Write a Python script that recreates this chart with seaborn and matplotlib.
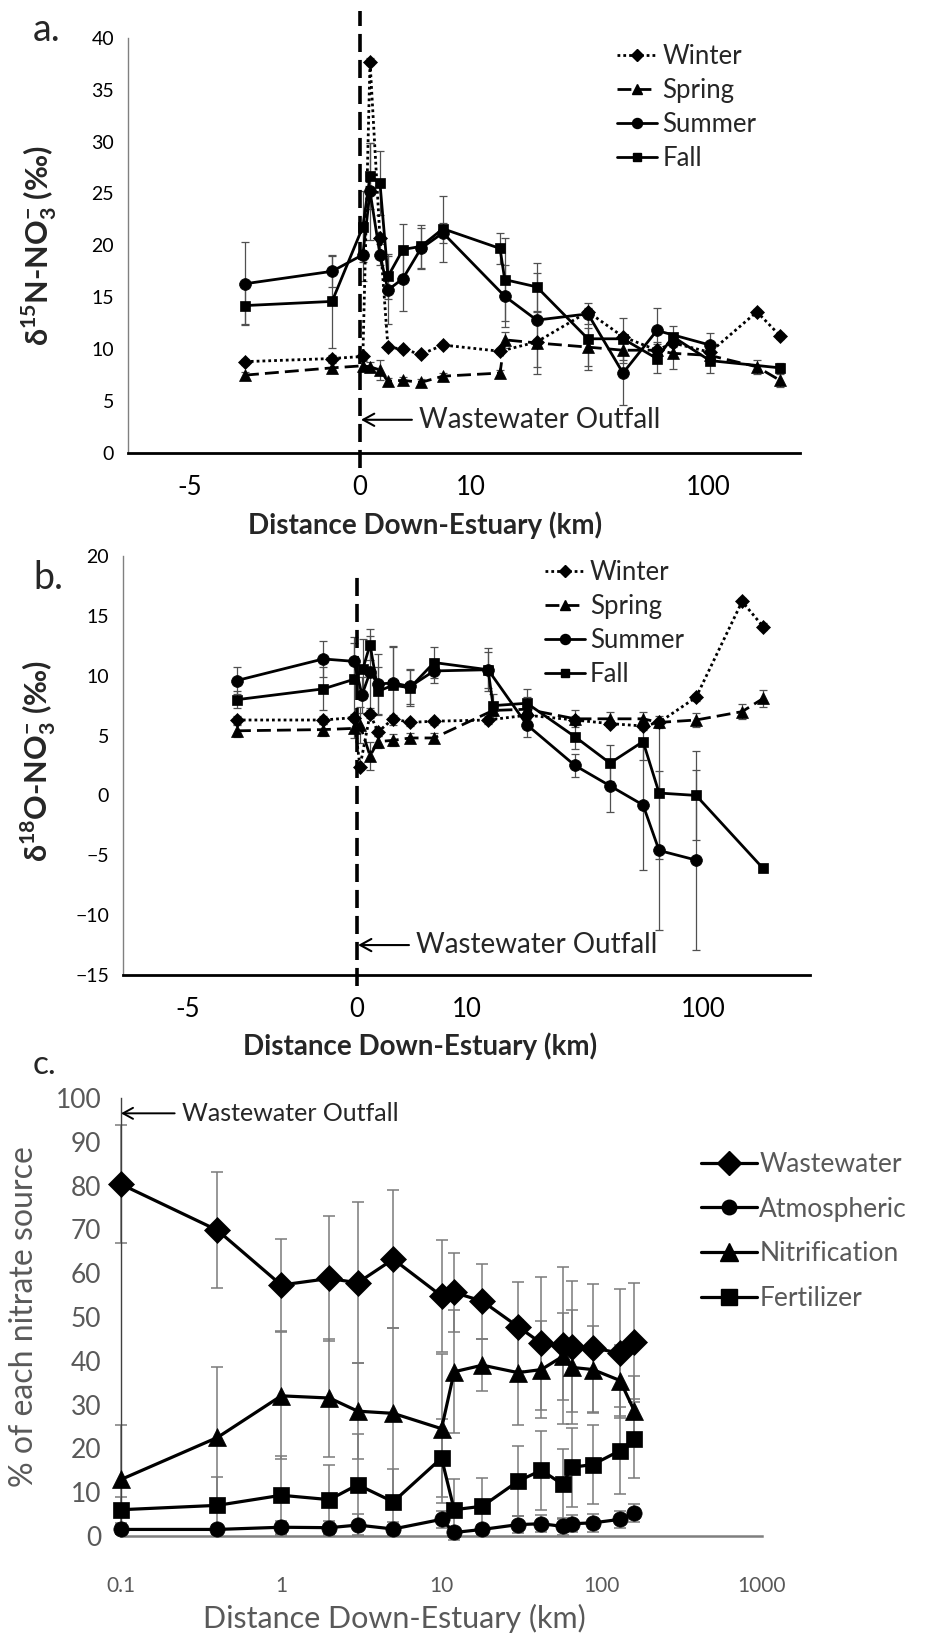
import numpy as np
import pandas as pd
import seaborn as sns
import matplotlib
matplotlib.use("Agg")
import matplotlib.pyplot as plt
from matplotlib.lines import Line2D

# ---------------- data: panel a (d15N-NO3) ----------------
a_winter_x = [-3.38, -0.82, 0.17, 0.60, 1.24, 1.79, 2.92, 4.46, 6.65, 14.4, 21.5, 35.4, 48.6, 65.2, 74.7, 101.6, 148.8, 178.9]
a_winter_y = [8.8, 9.1, 9.3, 37.7, 20.7, 10.2, 10.0, 9.5, 10.4, 9.8, 10.7, 13.6, 11.2, 9.9, 10.6, 9.7, 13.6, 11.3]
a_winter_e = [0.3, 0.3, 0.3, 0.3, 0.3, 0.3, 0.3, 0.3, 0.3, 0.3, 0.3, 0.3, 0.3, 0.3, 0.3, 0.3, 0.3, 0.3]

a_spring_x = [-3.38, -0.82, 0.17, 0.60, 1.24, 1.79, 2.92, 4.46, 6.65, 14.4, 15.2, 21.5, 35.4, 48.6, 65.2, 74.7, 101.6, 148.8, 178.9]
a_spring_y = [7.5, 8.2, 8.4, 8.3, 8.0, 6.9, 7.0, 6.8, 7.4, 7.7, 10.9, 10.6, 10.2, 9.9, 9.9, 9.6, 9.4, 8.3, 7.0]
a_spring_e = [0.3, 0.5, 0.5, 0.5, 1.0, 0.3, 0.3, 0.3, 0.3, 0.3, 0.8, 3.0, 1.8, 1.2, 0.8, 1.5, 0.6, 0.7, 0.6]

a_summer_x = [-3.38, -0.82, 0.17, 0.60, 1.24, 1.79, 2.92, 4.46, 6.65, 15.2, 21.5, 35.4, 48.6, 65.2, 101.6]
a_summer_y = [16.3, 17.5, 19.1, 25.2, 19.1, 15.7, 16.8, 19.7, 21.2, 15.1, 12.8, 13.4, 7.7, 11.8, 10.4]
a_summer_e = [4.0, 1.5, 2.5, 4.7, 1.0, 3.3, 3.1, 2.0, 1.0, 3.0, 4.5, 1.0, 3.1, 2.2, 1.2]

a_fall_x = [-3.38, -0.82, 0.17, 0.60, 1.24, 1.79, 2.92, 4.46, 6.65, 14.4, 15.2, 21.5, 35.4, 48.6, 65.2, 74.7, 101.6, 178.9]
a_fall_y = [14.2, 14.6, 21.8, 26.7, 26.0, 17.0, 19.6, 19.9, 21.6, 19.7, 16.7, 16.0, 11.0, 11.0, 9.1, 11.2, 8.9, 8.2]
a_fall_e = [1.8, 4.5, 3.4, 3.2, 3.1, 2.2, 2.5, 2.1, 3.2, 1.5, 4.0, 2.3, 3.0, 2.0, 1.4, 1.0, 1.2, 0.5]

# ---------------- data: panel b (d18O-NO3) ----------------
b_winter_x = [-3.55, -1.0, -0.09, 0.17, 0.79, 1.31, 2.39, 3.78, 6.06, 13.05, 20.2, 32.6, 45.0, 60.2, 69.1, 94.3, 137.5, 163]
b_winter_y = [6.3, 6.3, 6.5, 2.4, 6.8, 5.3, 6.4, 6.1, 6.2, 6.3, 6.7, 6.3, 6.0, 5.8, 6.1, 8.2, 16.2, 14.1]
b_winter_e = [0.3, 0.3, 0.3, 0.3, 0.3, 0.3, 0.3, 0.3, 0.3, 0.3, 0.3, 0.3, 0.3, 0.3, 0.3, 0.3, 0.3, 0.3]

b_spring_x = [-3.55, -1.0, -0.09, 0.17, 0.79, 1.31, 2.39, 3.78, 6.06, 13.85, 20.2, 32.6, 45.0, 60.2, 69.1, 94.3, 137.5, 163]
b_spring_y = [5.4, 5.5, 5.6, 5.9, 3.3, 4.5, 4.6, 4.8, 4.8, 7.1, 7.2, 6.4, 6.4, 6.4, 6.1, 6.3, 7.0, 8.1]
b_spring_e = [0.5, 0.5, 0.8, 1.5, 1.2, 0.5, 0.5, 0.4, 0.4, 0.5, 1.0, 0.7, 0.6, 0.6, 0.5, 0.6, 0.6, 0.7]

b_summer_x = [-3.55, -1.0, -0.09, 0.29, 0.79, 1.31, 2.39, 3.78, 6.06, 13.05, 20.2, 32.6, 45.0, 60.2, 69.1, 94.3]
b_summer_y = [9.6, 11.4, 11.2, 8.4, 10.3, 9.3, 9.4, 9.1, 10.4, 10.5, 5.9, 2.5, 0.8, -0.8, -4.6, -5.4]
b_summer_e = [1.1, 1.5, 1.5, 1.5, 3.0, 2.5, 3.0, 1.5, 1.0, 1.8, 1.0, 1.0, 2.2, 5.4, 6.6, 7.5]

b_fall_x = [-3.55, -1.0, -0.09, 0.35, 0.79, 1.31, 2.39, 3.78, 6.06, 13.05, 13.85, 20.2, 32.6, 45.0, 60.2, 69.1, 94.3, 163]
b_fall_y = [8.0, 8.9, 9.7, 10.6, 12.6, 8.7, 9.2, 9.0, 11.1, 10.5, 7.5, 7.7, 4.9, 2.7, 4.5, 0.2, 0.0, -6.1]
b_fall_e = [0.7, 1.8, 3.5, 2.5, 1.3, 2.0, 3.3, 1.5, 1.3, 1.5, 1.0, 1.2, 1.0, 1.5, 1.5, 5.5, 3.7, 0.3]

# ---------------- data: panel c (source contributions) ----------------
c_dist = [0.1, 0.4, 1, 2, 3, 5, 10, 12, 18, 30, 42, 57, 65, 88, 130, 160]
c_waste = [80.3, 69.8, 57.3, 58.8, 57.8, 63.2, 54.8, 55.6, 53.6, 47.8, 44.0, 43.5, 43.2, 43.0, 41.7, 44.2]
c_waste_e = [13.5, 13.2, 10.6, 14.2, 18.4, 15.8, 12.8, 9.0, 8.6, 10.2, 15.2, 18.0, 15.0, 14.6, 14.8, 13.6]
c_atmo = [1.5, 1.5, 2.0, 1.9, 2.5, 1.6, 3.8, 0.8, 1.5, 2.6, 2.8, 2.2, 2.8, 3.0, 3.8, 5.3]
c_atmo_e = [1.0, 1.0, 1.5, 1.5, 2.5, 1.5, 2.0, 1.0, 1.0, 2.0, 2.0, 2.0, 2.0, 2.0, 2.0, 2.0]
c_nitri = [12.9, 22.5, 32.0, 31.5, 28.5, 28.0, 24.5, 37.5, 39.0, 37.3, 38.0, 41.0, 38.5, 38.0, 35.5, 28.5]
c_nitri_e = [12.5, 16.0, 14.5, 13.5, 11.0, 19.5, 17.0, 14.0, 6.0, 12.0, 11.0, 10.0, 13.0, 10.0, 8.0, 8.0]
c_fert = [6.0, 7.0, 9.3, 8.3, 11.7, 7.8, 17.8, 6.0, 6.8, 12.5, 15.0, 11.8, 15.7, 16.3, 19.5, 22.2]
c_fert_e = [3.0, 6.5, 9.0, 8.0, 11.5, 7.5, 9.0, 7.0, 6.5, 8.0, 9.0, 8.0, 9.0, 9.0, 10.0, 9.0]

season_names = ["Winter", "Spring", "Summer", "Fall"]
source_names = ["Wastewater", "Atmospheric", "Nitrification", "Fertilizer"]
ab_ticks = [-5, 0, 10, 100]

# ---------------- style ----------------
sns.set_style("white")
plt.rcParams["font.family"] = ["Lato", "DejaVu Sans"]
plt.rcParams["mathtext.fontset"] = "custom"
plt.rcParams["mathtext.rm"] = "Lato"
plt.rcParams["mathtext.bf"] = "Lato:bold"

GREY = "#595959"

# piecewise distance axis: linear upstream, log-like downstream
K, C = 0.113, 7.5


def fwd(d):
    d = np.asarray(d, dtype=float)
    pos = np.log10(1 + np.clip(d, 0, None) / C)
    return np.where(d < 0, d * K, pos)


def inv(t):
    t = np.asarray(t, dtype=float)
    pos = C * (10 ** np.clip(t, 0, None) - 1)
    return np.where(t < 0, t / K, pos)


season_style = {
    "Winter": dict(marker="D", ms=7, ls=(0, (1, 1.1))),
    "Spring": dict(marker="^", ms=8, ls=(0, (5, 2.2))),
    "Summer": dict(marker="o", ms=8.5, ls="-"),
    "Fall": dict(marker="s", ms=7.5, ls="-"),
}


def season_panel(ax, series, ylim, yticks, xlim, ylabel, vline, outfall_y, leg_anchor):
    ax.set_xscale("function", functions=(fwd, inv))
    for name, (xs, ys, es) in zip(season_names, series):
        st = season_style[name]
        ax.errorbar(xs, ys, yerr=es, fmt="none", ecolor="#505050",
                    elinewidth=0.9, capsize=2.8, capthick=0.9, zorder=1)
        sns.lineplot(x=xs, y=ys, ax=ax, color="black", marker=st["marker"],
                     markersize=st["ms"], linestyle=st["ls"], linewidth=2.0,
                     markeredgecolor="black", markeredgewidth=0.5,
                     estimator=None, sort=False, zorder=3)
    ax.plot([0, 0], vline, color="black", lw=2.6, ls=(0, (5, 2.2)),
            clip_on=False, zorder=2)
    ax.annotate("Wastewater Outfall", xy=(0.06, outfall_y), xytext=(42, 0),
                textcoords="offset points", ha="left", va="center", fontsize=20,
                arrowprops=dict(arrowstyle="->,head_length=0.4,head_width=0.22",
                                lw=1.5, color="black", shrinkA=3, shrinkB=0))
    ax.set_xlim(*xlim)
    ax.set_ylim(*ylim)
    ax.set_yticks(yticks)
    ax.set_xticks(ab_ticks)
    ax.set_xticklabels([str(t) for t in ab_ticks])
    ax.minorticks_off()
    for s in ["top", "right"]:
        ax.spines[s].set_visible(False)
    ax.spines["left"].set_color("#808080")
    ax.spines["left"].set_linewidth(1.0)
    ax.spines["bottom"].set_color("black")
    ax.spines["bottom"].set_linewidth(2.0)
    ax.tick_params(axis="x", direction="inout", length=22, width=2,
                   labelsize=18.5, pad=5, colors="black")
    ax.tick_params(axis="y", direction="out", length=4, width=1,
                   color="#808080", labelcolor="black", labelsize=14, pad=6)
    ax.set_ylabel(ylabel, fontsize=22, fontweight="bold")
    ax.set_xlabel("Distance Down-Estuary (km)", fontsize=20, fontweight="bold")
    handles = [Line2D([], [], color="black", marker=season_style[n]["marker"],
                      ms=season_style[n]["ms"] * 0.85, ls=season_style[n]["ls"], lw=2.0)
               for n in season_names]
    ax.legend(handles, season_names, loc="upper left", bbox_to_anchor=leg_anchor,
              frameon=False, fontsize=18.5, handlelength=1.55, handletextpad=0.2,
              labelspacing=0.35, borderpad=0, borderaxespad=0)


fig = plt.figure(figsize=(9.37, 16.39), dpi=100)

# ---------------- panel a ----------------
ax_a = fig.add_axes([128 / 937, 1 - 453 / 1639, 672 / 937, 415.3 / 1639])
season_panel(ax_a,
             [(a_winter_x, a_winter_y, a_winter_e), (a_spring_x, a_spring_y, a_spring_e),
              (a_summer_x, a_summer_y, a_summer_e), (a_fall_x, a_fall_y, a_fall_e)],
             (0, 40), np.arange(0, 41, 5), (-6.82, 209.8),
             r"δ$^{\mathbf{15}}$N-NO$_{\mathbf{3}}^{\mathbf{-}}$ (‰)",
             (-1.4, 42.6), 3.2, (0.728, 0.985))
ax_a.yaxis.set_label_coords(-0.102, 0.5)
ax_a.xaxis.set_label_coords(0.442, -0.14)

# ---------------- panel b ----------------
ax_b = fig.add_axes([123 / 937, 1 - 975 / 1639, 687 / 937, 419 / 1639])
season_panel(ax_b,
             [(b_winter_x, b_winter_y, b_winter_e), (b_spring_x, b_spring_y, b_spring_e),
              (b_summer_x, b_summer_y, b_summer_e), (b_fall_x, b_fall_y, b_fall_e)],
             (-15, 20), np.arange(-15, 21, 5), (-6.92, 237),
             r"δ$^{\mathbf{18}}$O-NO$_{\mathbf{3}}^{\mathbf{-}}$ (‰)",
             (-15.9, 18.4), -12.5, (0.614, 0.99))
ax_b.yaxis.set_label_coords(-0.094, 0.51)
ax_b.xaxis.set_label_coords(0.432, -0.137)

# ---------------- panel c ----------------
ax_c = fig.add_axes([121 / 937, 1 - 1536 / 1639, 641 / 937, 438 / 1639])
src_style = {
    "Wastewater": (c_waste, c_waste_e, "D", 13),
    "Atmospheric": (c_atmo, c_atmo_e, "o", 11),
    "Nitrification": (c_nitri, c_nitri_e, "^", 13),
    "Fertilizer": (c_fert, c_fert_e, "s", 12),
}
for name in source_names:
    vals, errs, mk, ms = src_style[name]
    ax_c.errorbar(c_dist, vals, yerr=errs, fmt="none", ecolor="#7a7a7a",
                  elinewidth=1.1, capsize=4.2, capthick=1.1, zorder=1, clip_on=False)
    sns.lineplot(x=c_dist, y=vals, ax=ax_c, color="black", marker=mk, markersize=ms,
                 linewidth=2.3, markeredgecolor="black", markeredgewidth=0.5,
                 estimator=None, sort=False, clip_on=False, zorder=3)
ax_c.set_xscale("log")
ax_c.set_xlim(0.1, 1000)
ax_c.set_ylim(0, 100)
ax_c.set_yticks(np.arange(0, 101, 10))
ax_c.set_xticks([0.1, 1, 10, 100, 1000])
ax_c.set_xticklabels(["0.1", "1", "10", "100", "1000"])
ax_c.minorticks_off()
for s in ["top", "right"]:
    ax_c.spines[s].set_visible(False)
ax_c.spines["left"].set_color("#404040")
ax_c.spines["left"].set_linewidth(1.0)
ax_c.spines["bottom"].set_color("#7f7f7f")
ax_c.spines["bottom"].set_linewidth(1.8)
ax_c.tick_params(axis="x", length=0, labelsize=15, pad=29, labelcolor=GREY)
ax_c.tick_params(axis="y", length=0, labelsize=19, pad=14, labelcolor=GREY)
ax_c.set_ylabel("% of each nitrate source", fontsize=23, color=GREY)
ax_c.set_xlabel("Distance Down-Estuary (km)", fontsize=22, color=GREY)
ax_c.yaxis.set_label_coords(-0.128, 0.5)
ax_c.xaxis.set_label_coords(0.427, -0.155)
ax_c.annotate("Wastewater Outfall", xy=(0.1, 96.5), xytext=(44, 0),
              textcoords="offset points", ha="left", va="center", fontsize=18,
              arrowprops=dict(arrowstyle="->,head_length=0.4,head_width=0.22",
                              lw=1.4, color="black", shrinkA=3, shrinkB=0))
c_handles = [Line2D([], [], color="black", marker=src_style[n][2],
                    ms=src_style[n][3] * 0.95, lw=2.3) for n in source_names]
leg = ax_c.legend(c_handles, source_names, loc="center left",
                  bbox_to_anchor=(0.905, 0.695), frameon=False, fontsize=19,
                  handlelength=2.1, handletextpad=0.1, labelspacing=0.75,
                  borderpad=0, borderaxespad=0)
for t in leg.get_texts():
    t.set_color(GREY)

# panel letters
fig.text(33 / 937, 1 - 30 / 1639, "a.", fontsize=27, va="center")
fig.text(33 / 937, 1 - 578 / 1639, "b.", fontsize=27, va="center")
fig.text(33 / 937, 1 - 1065 / 1639, "c.", fontsize=24, va="center")

fig.savefig("out.png", dpi=100, facecolor="white")
